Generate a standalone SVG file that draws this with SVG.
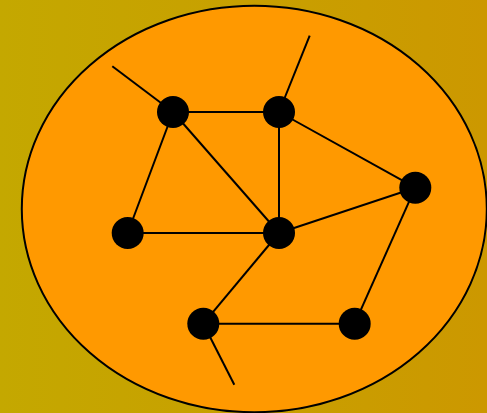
<svg xmlns="http://www.w3.org/2000/svg" width="487" height="413" viewBox="0 0 487 413">
<defs>
<linearGradient id="bg" x1="0" y1="0" x2="1" y2="0">
<stop offset="0" stop-color="#c4a800"/>
<stop offset="1" stop-color="#cc9800"/>
</linearGradient>
</defs>
<style>
.e{stroke:#000;stroke-width:2;fill:none}
.n{fill:#000}
</style>
<rect width="487" height="413" fill="url(#bg)"/>
<ellipse cx="254.3" cy="209" rx="232.5" ry="203.2" fill="#ff9900" stroke="#000" stroke-width="2"/>
<g id="connectors" class="e">
<line x1="173" y1="112" x2="112.3" y2="66.3"/>
<line x1="279" y1="112" x2="309.7" y2="35.7"/>
<line x1="203.3" y1="323.7" x2="234.3" y2="384.7"/>
<line x1="173" y1="112" x2="279" y2="112"/>
<line x1="173" y1="112" x2="127.7" y2="233"/>
<line x1="173" y1="112" x2="279" y2="233"/>
<line x1="279" y1="112" x2="279" y2="233"/>
<line x1="279" y1="112" x2="415.3" y2="187.7"/>
<line x1="127.7" y1="233" x2="279" y2="233"/>
<line x1="279" y1="233" x2="415.3" y2="187.7"/>
<line x1="279" y1="233" x2="203.3" y2="323.7"/>
<line x1="415.3" y1="187.7" x2="354.7" y2="323.7"/>
<line x1="203.3" y1="323.7" x2="354.7" y2="323.7"/>
</g>
<g id="nA"><circle class="n" cx="173" cy="112" r="16"/></g>
<g id="nB"><circle class="n" cx="279" cy="112" r="16"/></g>
<g id="nC"><circle class="n" cx="415.3" cy="187.7" r="16"/></g>
<g id="nD"><circle class="n" cx="127.7" cy="233" r="16"/></g>
<g id="nE"><circle class="n" cx="279" cy="233" r="16"/></g>
<g id="nF"><circle class="n" cx="203.3" cy="323.7" r="16"/></g>
<g id="nG"><circle class="n" cx="354.7" cy="323.7" r="16"/></g>
</svg>
